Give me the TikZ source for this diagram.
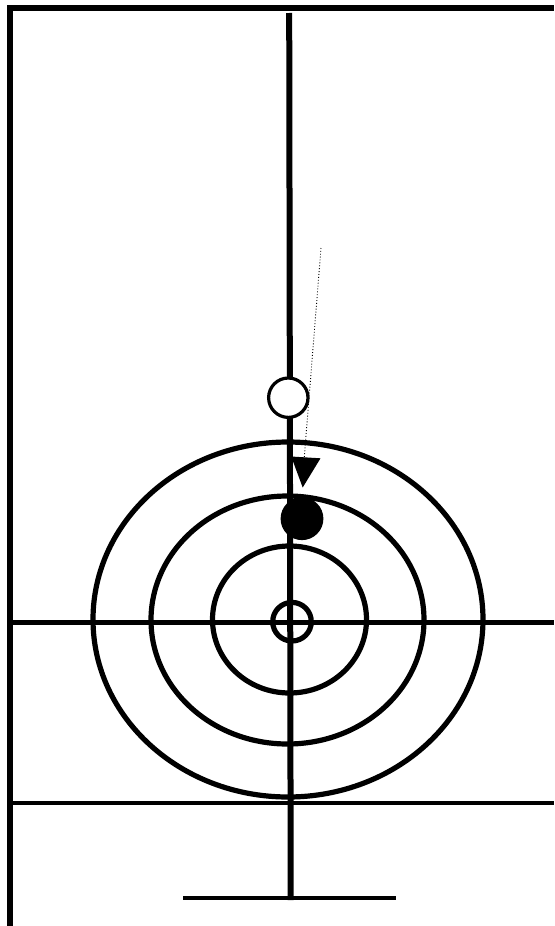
\documentclass[tikz,border=0pt]{standalone}
\tikzset{
  heavy/.style={line width=6pt,black},
  medium/.style={line width=5pt,black},
  light/.style={line width=4.3pt,black},
  ring/.style={line width=5.2pt,black},
}
\begin{document}
\begin{tikzpicture}[x=1pt,y=-1pt]
\useasboundingbox (0,0) rectangle (554,926);
\fill[white] (0,0) rectangle (554,926);
% frame
\draw[heavy] (10.3,926) -- (10.3,8) -- (554,8);
% target rings
\draw[ring] (288,619.5) ellipse [x radius=195,y radius=177.5];
\draw[ring] (287.5,620) ellipse [x radius=136.5,y radius=124];
\draw[ring] (289.5,619.5) ellipse [x radius=77,y radius=73.5];
\draw[ring] (292,621.7) circle [radius=19.3];
% axes
\draw[medium] (12,622) -- (554,622);
\draw[light] (7,802.7) -- (554,802.7);
\draw[light] (183,898) -- (396,898);
\draw[heavy] (289.2,13) -- (290.7,900);
% markers
\draw[line width=3.2pt,fill=white] (288.3,397.7) circle [radius=19.7];
\fill (302,518.7) circle [radius=21.4];
\fill (291.2,456.5) -- (320.5,458.3) -- (302.7,487.5) -- cycle;
\draw[line width=0.9pt,dotted] (321,248) -- (304.3,457);
\end{tikzpicture}
\end{document}
